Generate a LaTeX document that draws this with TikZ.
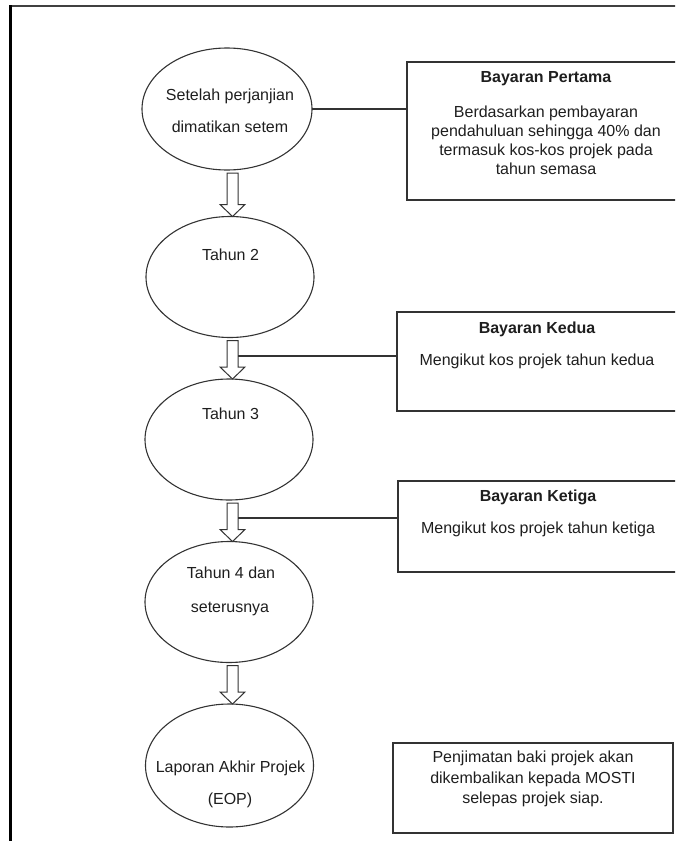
\documentclass[tikz,border=0pt]{standalone}
\usepackage{fontspec}
\setmainfont{Liberation Sans}
\usetikzlibrary{shapes.geometric,calc}
\definecolor{ln}{HTML}{333333}
\definecolor{tx}{HTML}{1E1E1E}
\newcommand\flowarrow[3]{%
  \draw[blockarrow] let \p1=(#2.south), \p2=(#3.north) in
    (#1-5.5pt,\y1-3pt) -- (#1+5.5pt,\y1-3pt) -- (#1+5.5pt,\y2+12pt)
    -- (#1+12.5pt,\y2+12pt) -- (#1,\y2) -- (#1-12.5pt,\y2+12pt)
    -- (#1-5.5pt,\y2+12pt) -- cycle;}
\begin{document}
\begin{tikzpicture}[x=1pt,y=-1pt,
  every node/.style={font=\fontsize{16}{19}\selectfont, text=tx},
  stage/.style={draw=ln, line width=1.1pt, ellipse, minimum width=168pt,
    minimum height=121pt, inner sep=0pt, outer sep=0pt},
  infobox/.style={draw=ln, line width=1.4pt, rectangle, inner sep=0pt, outer sep=0pt},
  lbl/.style={anchor=base, inner sep=0pt},
  ttl/.style={anchor=base, inner sep=0pt, font=\fontsize{16}{19}\selectfont\bfseries},
  link/.style={draw=ln, line width=1.1pt},
  blockarrow/.style={draw=ln, line width=1pt, fill=white, line join=miter}
]
\useasboundingbox (0,0) rectangle (675,841);
\clip (0,0) rectangle (675,841);

% outer frame (only top and left visible)
\draw[line width=1.8pt, draw=black!75] (10,6) -- (690,6);
\draw[line width=3pt, draw=black] (10,5) -- (10,850);

% stages
\node[stage, minimum width=170pt, minimum height=122pt] (e1) at (227,109) {};
\node[stage] (e2) at (230,277) {};
\node[stage] (e3) at (229,439.5) {};
\node[stage] (e4) at (229,602) {};
\node[stage, minimum height=123pt] (e5) at (229.5,765.5) {};

\node[lbl] (t1a) at (230,100.5) {Setelah perjanjian};
\node[lbl] (t1b) at (230,132.5) {dimatikan setem};
\node[lbl] (t2) at (230.5,260.5) {Tahun 2};
\node[lbl] (t3) at (230.5,419.5) {Tahun 3};
\node[lbl] (t4a) at (231,578.5) {Tahun 4 dan};
\node[lbl] (t4b) at (230,612.5) {seterusnya};
\node[lbl] (t5a) at (230.5,772.5) {Laporan Akhir Projek};
\node[lbl] (t5b) at (230,804.5) {(EOP)};

% info boxes
\node[infobox, minimum width=278pt, minimum height=138pt] (b1) at (546,131) {};
\node[infobox, minimum width=280pt, minimum height=99pt] (b2) at (537,361.5) {};
\node[infobox, minimum width=280pt, minimum height=91pt] (b3) at (538,526.5) {};
\node[infobox, minimum width=280pt, minimum height=90pt] (b5) at (533,788) {};

\node[ttl] (h1) at (546,82.5) {Bayaran Pertama};
\node[lbl] (p1a) at (546,117.5) {Berdasarkan pembayaran};
\node[lbl] (p1b) at (546,136.5) {pendahuluan sehingga 40\% dan};
\node[lbl] (p1c) at (546,155.5) {termasuk kos-kos projek pada};
\node[lbl] (p1d) at (546,174.5) {tahun semasa};

\node[ttl] (h2) at (537,333.5) {Bayaran Kedua};
\node[lbl] (p2) at (537,365.5) {Mengikut kos projek tahun kedua};

\node[ttl] (h3) at (538,501.5) {Bayaran Ketiga};
\node[lbl] (p3) at (538,533.5) {Mengikut kos projek tahun ketiga};

\node[lbl] (p5a) at (533,762.5) {Penjimatan baki projek akan};
\node[lbl] (p5b) at (533,783) {dikembalikan kepada MOSTI};
\node[lbl] (p5c) at (533,803.5) {selepas projek siap.};

% block arrows
\flowarrow{232.5pt}{e1}{e2}
\flowarrow{232.5pt}{e2}{e3}
\flowarrow{232.5pt}{e3}{e4}
\flowarrow{232.5pt}{e4}{e5}

% connectors
\coordinate (k2) at (238,356);
\coordinate (k3) at (238,518);
\draw[link] (e1.east) -- (e1.east -| b1.west);
\draw[link] (k2) -- (k2 -| b2.west);
\draw[link] (k3) -- (k3 -| b3.west);
\end{tikzpicture}
\end{document}
